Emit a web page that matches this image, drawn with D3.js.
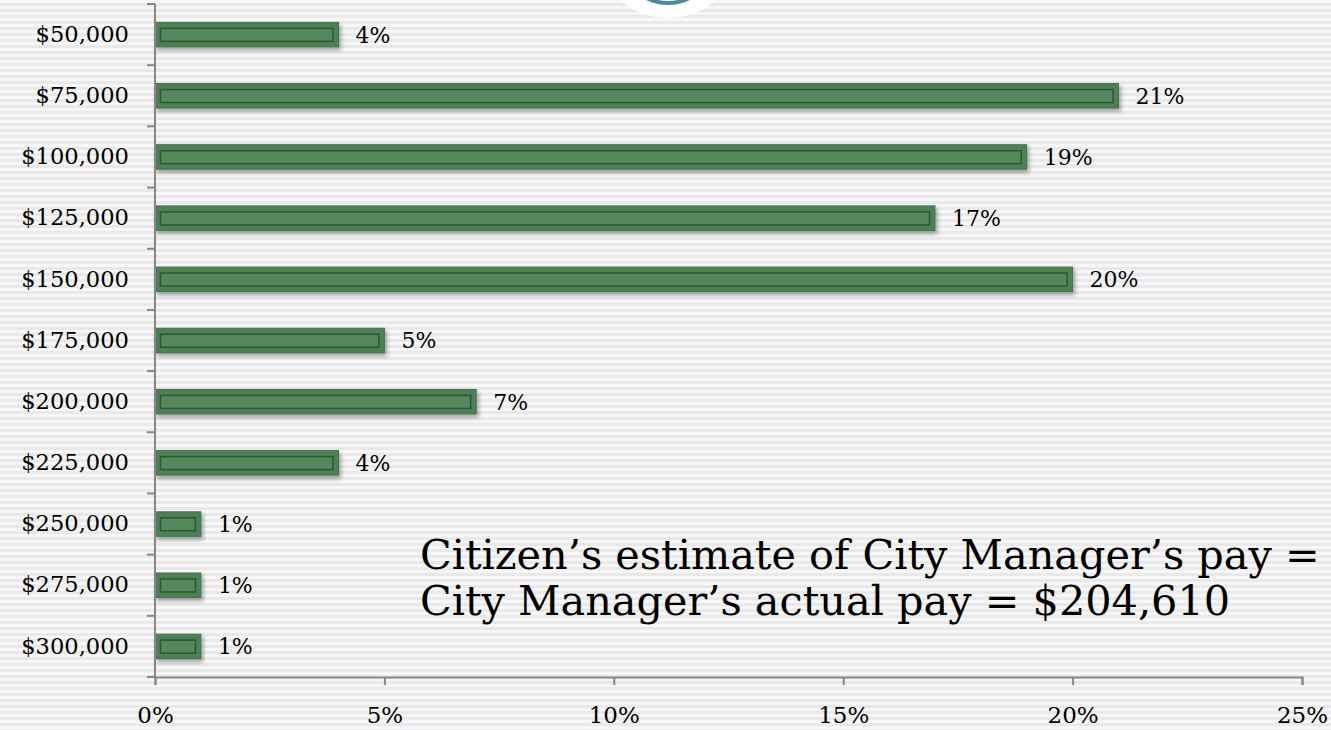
<!DOCTYPE html>
<html>
<head>
<meta charset="utf-8">
<script src="https://cdn.jsdelivr.net/npm/d3@7"></script>
<style>
  html, body { margin: 0; padding: 0; background: #f2f2f2; }
  svg { display: block; }
  text { font-family: "DejaVu Serif", "Liberation Serif", serif; fill: #000; }
</style>
</head>
<body>
<svg id="chart" width="1331" height="730"></svg>
<script>
const categories = ["$50,000", "$75,000", "$100,000", "$125,000", "$150,000", "$175,000",
                    "$200,000", "$225,000", "$250,000", "$275,000", "$300,000"];
const values = [4, 21, 19, 17, 20, 5, 7, 4, 1, 1, 1];
const xTicks = [0, 5, 10, 15, 20, 25];
const noteLines = ["Citizen\u2019s estimate of City Manager\u2019s pay =",
                   "City Manager\u2019s actual pay = $204,610"];

const W = 1331, H = 730;
const margin = { left: 155, right: 29, top: 4, bottom: 53 };
const svg = d3.select("#chart");
const defs = svg.append("defs");

// striped background
const pat = defs.append("pattern").attr("id", "stripes").attr("patternUnits", "userSpaceOnUse")
  .attr("width", 8).attr("height", 6);
pat.append("rect").attr("width", 8).attr("height", 6).attr("fill", "#f7f7f7");
pat.append("rect").attr("y", 3).attr("width", 8).attr("height", 3).attr("fill", "#e9e9e9");
svg.append("rect").attr("width", W).attr("height", H).attr("fill", "url(#stripes)");

// shadow filter
const f = defs.append("filter").attr("id", "shadow").attr("x", "-5%").attr("y", "-40%")
  .attr("width", "115%").attr("height", "200%");
f.append("feDropShadow").attr("dx", 2).attr("dy", 3).attr("stdDeviation", 2)
  .attr("flood-color", "#000").attr("flood-opacity", 0.35);

// decorative circle at top
svg.append("circle").attr("cx", 668).attr("cy", -55).attr("r", 73).attr("fill", "#ffffff");
svg.append("circle").attr("cx", 668).attr("cy", -44).attr("r", 47).attr("fill", "none")
  .attr("stroke", "#4e8a99").attr("stroke-width", 4);

const x = d3.scaleLinear().domain([0, 25]).range([margin.left, W - margin.right]);
const y = d3.scaleBand().domain(categories).range([margin.top, H - margin.bottom])
  .paddingInner(0.6).paddingOuter(0.3);

const axisColor = "#878787";

// bars
const g = svg.append("g");
const bars = g.selectAll("g.bar").data(categories).join("g").attr("class", "bar");
bars.append("rect")
  .attr("x", x(0))
  .attr("y", d => y(d))
  .attr("width", (d, i) => x(values[i]) - x(0))
  .attr("height", y.bandwidth())
  .attr("fill", "#4f7f56")
  .attr("stroke", "#44714b")
  .attr("stroke-width", 1)
  .attr("filter", "url(#shadow)");
bars.append("rect")
  .attr("x", x(0) + 5.5)
  .attr("y", d => y(d) + 6)
  .attr("width", (d, i) => Math.max(0, x(values[i]) - x(0) - 11))
  .attr("height", y.bandwidth() - 11.5)
  .attr("fill", "#55875d")
  .attr("stroke", "#2d5734")
  .attr("stroke-width", 1.5);

// value labels
bars.append("text")
  .attr("x", (d, i) => x(values[i]) + 17)
  .attr("y", d => y(d) + y.bandwidth() / 2)
  .attr("dy", "0.36em")
  .style("font-size", "22px")
  .text((d, i) => values[i] + "%");

// y axis
const yAxis = svg.append("g").attr("transform", `translate(${margin.left},0)`)
  .call(d3.axisLeft(y).tickSize(0).tickPadding(26));
yAxis.select(".domain").remove();
yAxis.selectAll("text").style("font-size", "22.6px").style("font-family", "DejaVu Serif").attr("fill", "#000");
const step = y.step();
const yr = y.range();
const bounds = d3.range(categories.length + 1).map(i => yr[0] + i * step);
svg.append("g").selectAll("line").data(bounds).join("line")
  .attr("x1", margin.left - 8).attr("x2", margin.left)
  .attr("y1", d => d).attr("y2", d => d)
  .attr("stroke", axisColor).attr("stroke-width", 2);
svg.append("line").attr("x1", margin.left).attr("x2", margin.left)
  .attr("y1", yr[0]).attr("y2", yr[1]).attr("stroke", axisColor).attr("stroke-width", 2);

// x axis
const xAxis = svg.append("g").attr("transform", `translate(0,${yr[1]})`)
  .call(d3.axisBottom(x).tickValues(xTicks).tickSize(8).tickPadding(22).tickFormat(d => d + "%"));
xAxis.select(".domain").attr("stroke", axisColor).attr("stroke-width", 2);
xAxis.selectAll(".tick line").attr("stroke", axisColor).attr("stroke-width", 2);
xAxis.selectAll("text").style("font-size", "23px").style("font-family", "DejaVu Serif").attr("fill", "#000");

// annotation
const note = svg.append("text").attr("x", 420).attr("y", 569).style("font-size", "41.4px");
note.selectAll("tspan").data(noteLines).join("tspan")
  .attr("x", 420).attr("dy", (d, i) => i === 0 ? 0 : 46).text(d => d);
</script>
</body>
</html>
